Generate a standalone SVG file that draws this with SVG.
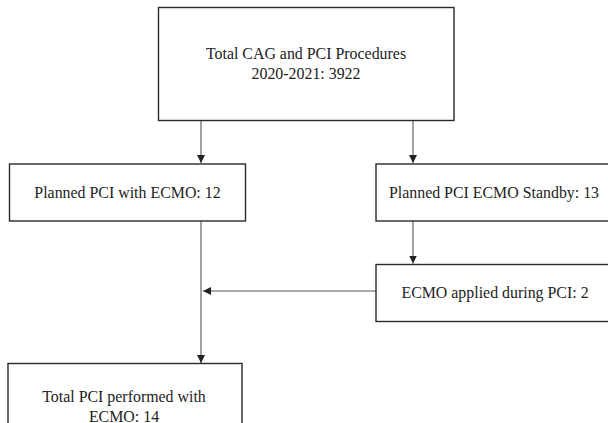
<svg xmlns="http://www.w3.org/2000/svg" width="608" height="423" viewBox="0 0 608 423">
  <style>
    .box { fill: #ffffff; stroke: #2a2a2a; stroke-width: 1.4; }
    .lbl { font-family: "Liberation Serif", "Times New Roman", serif; font-size: 15.9px; fill: #222222; text-anchor: middle; }
    .conn { stroke: #555555; stroke-width: 1.1; fill: none; marker-end: url(#arrow); }
  </style>
  <defs>
    <marker id="arrow" markerUnits="userSpaceOnUse" markerWidth="10" markerHeight="10" refX="8" refY="4" orient="auto">
      <path d="M0,0 L8,4 L0,8 Z" fill="#222222"/>
    </marker>
  </defs>
  <rect x="0" y="0" width="608" height="423" fill="#ffffff"/>
  <g id="connectors">
    <line class="conn" x1="201" y1="121" x2="201" y2="163"/>
    <line class="conn" x1="413" y1="121" x2="413" y2="163"/>
    <line class="conn" x1="413" y1="221" x2="413" y2="263.5"/>
    <line class="conn" x1="201" y1="221" x2="201" y2="363"/>
    <line class="conn" x1="376" y1="291" x2="203" y2="291"/>
  </g>
  <g id="node-total">
    <rect class="box" x="158.5" y="7.5" width="295.5" height="113"/>
    <text class="lbl" x="306" y="59">Total CAG and PCI Procedures</text>
    <text class="lbl" x="306" y="79">2020-2021: 3922</text>
  </g>
  <g id="node-planned-ecmo">
    <rect class="box" x="9.5" y="164" width="236" height="57"/>
    <text class="lbl" x="127.5" y="197.5">Planned PCI with ECMO: 12</text>
  </g>
  <g id="node-standby">
    <rect class="box" x="376" y="164" width="236" height="57"/>
    <text class="lbl" x="494" y="197.5">Planned PCI ECMO Standby: 13</text>
  </g>
  <g id="node-applied">
    <rect class="box" x="376" y="264.5" width="236" height="57"/>
    <text class="lbl" x="495" y="297.5">ECMO applied during PCI: 2</text>
  </g>
  <g id="node-total-pci">
    <rect class="box" x="8" y="363.5" width="234" height="70"/>
    <text class="lbl" x="124" y="401.5">Total PCI performed with</text>
    <text class="lbl" x="124" y="421.5">ECMO: 14</text>
  </g>
</svg>
